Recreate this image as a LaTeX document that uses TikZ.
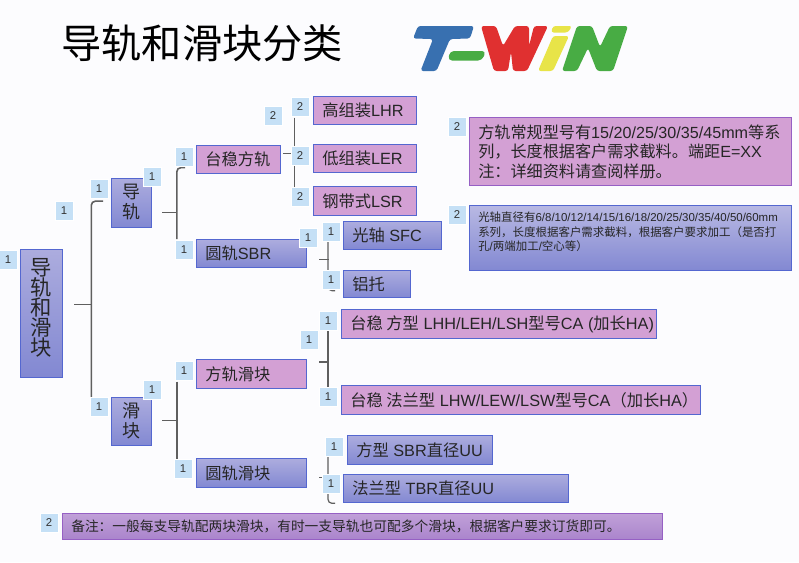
\documentclass[tikz,border=0pt]{standalone}
\usepackage{fontspec}
\setmainfont{Liberation Sans}
\newfontfamily\cjk{Noto Sans CJK SC}
\usetikzlibrary{calc}
\definecolor{pagebg}{RGB}{252,252,254}
\definecolor{pinkfill}{RGB}{211,160,212}
\definecolor{edgeblue}{RGB}{84,103,208}
\definecolor{bluetop}{RGB}{172,172,222}
\definecolor{bluebot}{RGB}{130,136,210}
\definecolor{badgefill}{RGB}{197,224,246}
\definecolor{linegray}{RGB}{95,95,95}
\definecolor{purptop}{RGB}{192,160,216}
\definecolor{purpbot}{RGB}{170,132,204}
\definecolor{purpedge}{RGB}{150,96,196}
\definecolor{logoblue}{RGB}{56,112,176}
\definecolor{logored}{RGB}{224,48,48}
\definecolor{logoyellow}{RGB}{232,228,72}
\definecolor{logogreen}{RGB}{72,172,68}
\newcommand{\zh}[1]{{\cjk #1}}
\tikzset{
 x=0.75pt,y=-0.75pt,
 boxbase/.style={draw=edgeblue,line width=1pt,inner sep=0pt,anchor=north west,text=black!85},
 pinkbox/.style={boxbase,fill=pinkfill},
 bluebox/.style={boxbase,top color=bluetop,bottom color=bluebot},
 badge/.style={fill=badgefill,draw=white,line width=0.6pt,minimum width=13.5pt,minimum height=14pt,inner sep=0pt,font=\fontsize{8.5pt}{9pt}\selectfont,text=black!80},
 conn/.style={draw=linegray,line width=1.2pt,rounded corners=3pt},
 thinconn/.style={conn,line width=0.9pt},
 logopart/.style={rounded corners=2pt},
 vtext/.style={align=center,font=\fontsize{13.5pt}{15pt}\selectfont\cjk,text=black!85},
}
\newcommand{\bx}[7]{% name, style, x1,y1,x2,y2, text
 \node[#2,minimum width={(#5-#3)*0.75pt},minimum height={(#6-#4)*0.75pt}] (#1) at (#3,#4) {};
 \node[anchor=west,inner sep=0pt,font=\fontsize{12.2pt}{14pt}\selectfont,text=black!85] (#1t) at ($(#1.west)+(9,0)$) {#7};
}
\begin{document}
\begin{tikzpicture}
\useasboundingbox (0,0) rectangle (799,562);
\fill[pagebg] (0,0) rectangle (799,562);
\node[anchor=west,inner sep=0pt,font=\fontsize{30.2pt}{32pt}\selectfont\cjk] (title) at (61,43) {导轨和滑块分类};
% logo
\fill[logoblue,logopart] (413,38.5) -- (418,26) -- (474,26) -- (470,38.5) -- (450,39) -- (436.5,71) -- (420.5,71) -- (433,39) -- cycle;
\fill[logogreen,rounded corners=3pt] (450,51) -- (486,51) -- (482,60.5) -- (448,60.5) -- cycle;
\fill[logored,logopart] (481,26) -- (496,26) -- (503,46) -- (515,26) -- (529,26) -- (529,46) -- (534,26) -- (548,26) -- (527,71) -- (513,71) -- (511,52) -- (508,71) -- (494,71) -- cycle;
\fill[logoyellow,logopart] (553,36) -- (569,36) -- (553,71) -- (538,71) -- cycle;
\fill[logoyellow,logopart] (553,26) -- (572,26) -- (568,32.5) -- (551,32.5) -- cycle;
\fill[logogreen,logopart] (577,26) -- (592,26) -- (600,47) -- (610,26) -- (628,26) -- (613,71) -- (597,71) -- (588,48) -- (577,71) -- (562,71) -- cycle;
% boxes
\node[bluebox,minimum width={42*0.75pt},minimum height={128*0.75pt}] (root) at (20,249) {};
\node[vtext,font=\fontsize{16pt}{15pt}\selectfont\cjk] (roott) at ($(root.center)+(0,-6)$) {导\\轨\\和\\滑\\块};
\node[bluebox,minimum width={40*0.75pt},minimum height={49*0.75pt}] (rail) at (111,178) {};
\node[vtext] (railt) at ($(rail.center)+(0,-1)$) {导\\轨};
\node[bluebox,minimum width={40*0.75pt},minimum height={48*0.75pt}] (slider) at (111,397) {};
\node[vtext] (slidert) at ($(slider.center)+(0,-1)$) {滑\\块};
\bx{tw}{pinkbox}{196}{145}{280}{173}{\zh{台稳方轨}}
\bx{sbr}{bluebox}{196}{239}{306}{267}{\zh{圆轨}SBR}
\bx{lhr}{pinkbox}{313}{96}{416}{124}{\zh{高组装}LHR}
\bx{ler}{pinkbox}{313}{144}{416}{172}{\zh{低组装}LER}
\bx{lsr}{pinkbox}{313}{186}{416}{215}{\zh{钢带式}LSR}
\bx{sfc}{bluebox}{343}{221}{441}{249}{\zh{光轴} SFC}
\bx{lv}{bluebox}{343}{270}{410}{297}{\zh{铝托}}
\bx{fs}{pinkbox}{196}{359}{306}{388}{\zh{方轨滑块}}
\bx{ys}{bluebox}{196}{458}{306}{487}{\zh{圆轨滑块}}
\bx{lhh}{pinkbox}{341}{309}{656}{338}{\zh{台稳 方型} LHH/LEH/LSH\zh{型号}CA (\zh{加长}HA)}
\bx{lhw}{pinkbox}{341}{385}{700}{414}{\zh{台稳 法兰型} LHW/LEW/LSW\zh{型号}CA\zh{（加长}HA\zh{）}}
\bx{sq}{bluebox}{347}{435}{492}{464}{\zh{方型} SBR\zh{直径}UU}
\bx{tbr}{bluebox}{343}{474}{568}{502}{\zh{法兰型} TBR\zh{直径}UU}
\node[boxbase,draw=purpedge,top color=purptop,bottom color=purpbot,minimum width={600*0.75pt},minimum height={26*0.75pt}] (memo) at (62,513) {};
\node[anchor=west,inner sep=0pt,font=\fontsize{10.3pt}{11pt}\selectfont\cjk,text=black!85] (memot) at ($(memo.west)+(9,0)$) {备注：一般每支导轨配两块滑块，有时一支导轨也可配多个滑块，根据客户要求订货即可。};
\node[boxbase,draw=purpedge,fill=pinkfill,minimum width={322*0.75pt},minimum height={68*0.75pt}] (note1) at (469,117) {};
\node[anchor=west,align=left,inner sep=0pt,font=\fontsize{12.1pt}{14.5pt}\selectfont,text=black!85] (note1t) at ($(note1.west)+(9,0)$) {\zh{方轨常规型号有}15/20/25/30/35/45mm\zh{等系}\\\zh{列，长度根据客户需求截料。端距}E=XX\\\zh{注：详细资料请查阅样册。}};
\node[boxbase,top color=bluetop!85!white,bottom color=bluebot,minimum width={322*0.75pt},minimum height={65*0.75pt}] (note2) at (469,205) {};
\node[anchor=north west,align=left,inner sep=0pt,font=\fontsize{8.6pt}{10.6pt}\selectfont,text=black!85] (note2t) at ($(note2.north west)+(9,7)$) {\zh{光轴直径有}6/8/10/12/14/15/16/18/20/25/30/35/40/50/60mm\\\zh{系列，长度根据客户需求截料，根据客户要求加工（是否打}\\\zh{孔}/\zh{两端加工}/\zh{空心等）}};
% trunk positions, taken from the boxes they serve
\coordinate (trunkA) at ($(root.east)+(28,0)$);
\coordinate (trunkB) at ($(rail.east)+(24.5,0)$);
\coordinate (trunkC) at ($(sfc.west)+(-15,0)$);
\coordinate (trunkD) at ($(lhh.west)+(-13,0)$);
% connectors
\draw[conn] ($(root.east)+(11,-9)$) -- ($(root.east)+(28,-9)$);
\draw[conn] ($(rail.west)+(-8,-2)$) -| (trunkA) -- (trunkA |- slider.north);
\draw[conn] ($(rail.east)+(10,9.5)$) -- ($(rail.east)+(24.5,9.5)$);
\draw[conn] ($(tw.west)+(-11,8)$) -| (trunkB) -- (trunkB |- sbr.north);
\draw[conn] ($(slider.east)+(10,-1)$) -- ($(slider.east)+(24.5,-1)$);
\draw[conn] ($(trunkB |- fs.west)+(0,7.5)$) -- ($(trunkB |- ys.west)+(0,-13.5)$);
\draw[conn] ($(tw.east)+(2,-6)$) -- ($(tw.east)+(12,-6)$);
\draw[thinconn,rounded corners=0pt] ($(lhr.west)+(-18.5,7)$) -- ($(lsr.west)+(-18.5,-14)$);
\draw[conn] ($(sbr.east)+(12,6)$) -- ($(sbr.east)+(22,6)$);
\draw[thinconn] (trunkC) -- ($(trunkC |- lv.west)+(0,6.5)$) -- ($(lv.west)+(-8,6.5)$);
\draw[conn] ($(fs.east)+(12,-12)$) -- ($(fs.east)+(22,-12)$);
\draw[conn] (trunkD) -- (trunkD |- lhw.west);
\draw[thinconn] ($(ys.east)+(12,4)$) -- ($(ys.east)+(16,4)$);
\draw[thinconn] ($(sq.west)+(-19,0)$) -- ($(sq.west |- tbr.south)+(-19,0)$) -- ($(tbr.south west)+(-8,0)$);
% badges
\foreach \nm/\cx/\cy/\t in {
 broot/8/260/1, brail0/64/211/1, brail1/99/189/1, brail2/152/177/1,
 btw1/184/157/1, bsbr1/184/250/1, btw2/273/116/2, bl1/300/107/2, bl2/300/156/2, bl3/300/197/2,
 bsb2/308/238/1, bsfc/331/232/1, blv/331/280/1,
 bs1/99/407/1, bs2/152/390/1, bfs/184/371/1, bys/183/469/1,
 bq0/309/340/1, blhh/328/321/1, blhw/328/397/1, bsq/334/447/1, btb/331/484/1,
 bn1/457/127/2, bn2/457/215/2, bm/49/523/2} {
 \node[badge] (\nm) at (\cx,\cy) {\t};
}
\end{tikzpicture}
\end{document}
